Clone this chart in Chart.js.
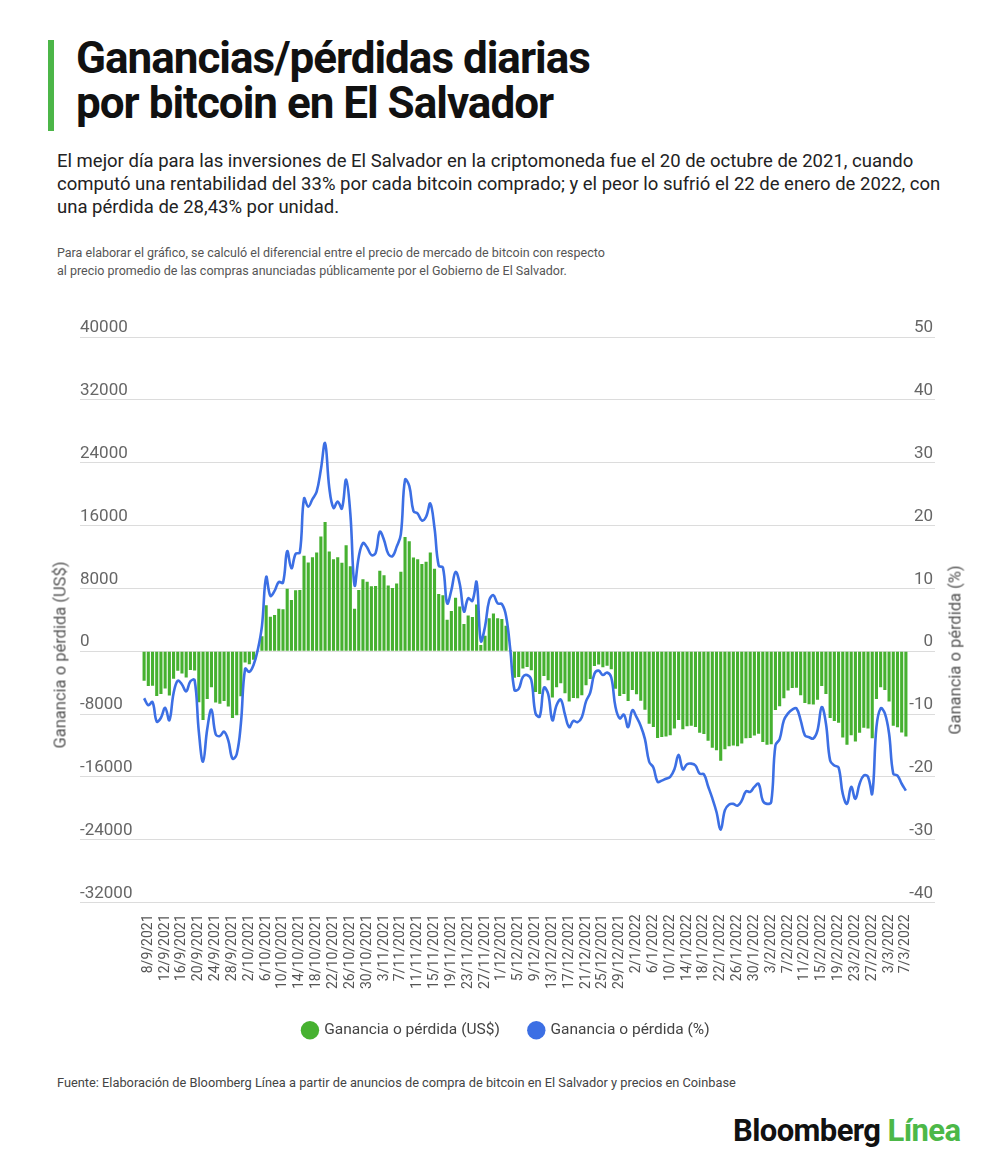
<!DOCTYPE html>
<html lang="es">
<head>
<meta charset="UTF-8">
<title>Ganancias/pérdidas diarias por bitcoin en El Salvador</title>
<script src="https://cdn.jsdelivr.net/npm/chart.js"></script>
<style>
  body { margin: 0; background: #fff; font-family: Roboto, "Liberation Sans", sans-serif; }
  .pagina { position: relative; width: 1000px; height: 1170px; overflow: hidden; }
  .barra { position: absolute; left: 48px; top: 40px; width: 6px; height: 91px; background: #4cb648; }
  h1 { position: absolute; left: 76px; top: 36px; margin: 0; font-size: 44px; line-height: 45px; font-weight: 700; letter-spacing: -1px; color: #111; }
  .bajada { position: absolute; left: 57px; top: 150px; margin: 0; font-size: 18.5px; line-height: 23px; color: #222; white-space: nowrap; }
  .nota { position: absolute; left: 57px; top: 244px; font-size: 12.5px; line-height: 18px; color: #555; white-space: nowrap; }
  .grafico { position: absolute; left: 0; top: 300px; width: 1000px; height: 770px; }
  .tituloEje { position: absolute; font-size: 16.5px; color: #555; white-space: nowrap; transform: translate(-50%, -50%) rotate(-90deg); }
  .fuente { position: absolute; left: 57px; top: 1075px; font-size: 12.8px; color: #444; white-space: nowrap; }
  .logo { position: absolute; left: 733px; top: 1112px; font-size: 31px; font-weight: 700; letter-spacing: -0.6px; color: #111; white-space: nowrap; }
  .logo span { color: #4cb848; }
</style>
</head>
<body>
<div class="pagina">
  <div class="barra"></div>
  <h1>Ganancias/pérdidas diarias<br>por bitcoin en El Salvador</h1>
  <p class="bajada">El mejor día para las inversiones de El Salvador en la criptomoneda fue el 20 de octubre de 2021, cuando<br>computó una rentabilidad del 33% por cada bitcoin comprado; y el peor lo sufrió el 22 de enero de 2022, con<br>una pérdida de 28,43% por unidad.</p>
  <div class="nota">Para elaborar el gráfico, se calculó el diferencial entre el precio de mercado de bitcoin con respecto<br>al precio promedio de las compras anunciadas públicamente por el Gobierno de El Salvador.</div>
  <div class="grafico"><canvas id="grafico"></canvas></div>
  <div class="tituloEje" style="left:60px; top:655px;">Ganancia o pérdida (US$)</div>
  <div class="tituloEje" style="left:955px; top:650px;">Ganancia o pérdida (%)</div>
  <div class="fuente">Fuente: Elaboración de Bloomberg Línea a partir de anuncios de compra de bitcoin en El Salvador y precios en Coinbase</div>
  <div class="logo">Bloomberg <span>Línea</span></div>
</div>

<script>
// fechas diarias, 7/9/2021 a 7/3/2022
const fechas = [
  '7/9/2021','8/9/2021','9/9/2021','10/9/2021','11/9/2021','12/9/2021','13/9/2021','14/9/2021','15/9/2021','16/9/2021',
  '17/9/2021','18/9/2021','19/9/2021','20/9/2021','21/9/2021','22/9/2021','23/9/2021','24/9/2021','25/9/2021','26/9/2021',
  '27/9/2021','28/9/2021','29/9/2021','30/9/2021',
  '1/10/2021','2/10/2021','3/10/2021','4/10/2021','5/10/2021','6/10/2021','7/10/2021','8/10/2021','9/10/2021','10/10/2021',
  '11/10/2021','12/10/2021','13/10/2021','14/10/2021','15/10/2021','16/10/2021','17/10/2021','18/10/2021','19/10/2021','20/10/2021',
  '21/10/2021','22/10/2021','23/10/2021','24/10/2021','25/10/2021','26/10/2021','27/10/2021','28/10/2021','29/10/2021','30/10/2021','31/10/2021',
  '1/11/2021','2/11/2021','3/11/2021','4/11/2021','5/11/2021','6/11/2021','7/11/2021','8/11/2021','9/11/2021','10/11/2021',
  '11/11/2021','12/11/2021','13/11/2021','14/11/2021','15/11/2021','16/11/2021','17/11/2021','18/11/2021','19/11/2021','20/11/2021',
  '21/11/2021','22/11/2021','23/11/2021','24/11/2021','25/11/2021','26/11/2021','27/11/2021','28/11/2021','29/11/2021','30/11/2021',
  '1/12/2021','2/12/2021','3/12/2021','4/12/2021','5/12/2021','6/12/2021','7/12/2021','8/12/2021','9/12/2021','10/12/2021',
  '11/12/2021','12/12/2021','13/12/2021','14/12/2021','15/12/2021','16/12/2021','17/12/2021','18/12/2021','19/12/2021','20/12/2021',
  '21/12/2021','22/12/2021','23/12/2021','24/12/2021','25/12/2021','26/12/2021','27/12/2021','28/12/2021','29/12/2021','30/12/2021','31/12/2021',
  '1/1/2022','2/1/2022','3/1/2022','4/1/2022','5/1/2022','6/1/2022','7/1/2022','8/1/2022','9/1/2022','10/1/2022',
  '11/1/2022','12/1/2022','13/1/2022','14/1/2022','15/1/2022','16/1/2022','17/1/2022','18/1/2022','19/1/2022','20/1/2022',
  '21/1/2022','22/1/2022','23/1/2022','24/1/2022','25/1/2022','26/1/2022','27/1/2022','28/1/2022','29/1/2022','30/1/2022','31/1/2022',
  '1/2/2022','2/2/2022','3/2/2022','4/2/2022','5/2/2022','6/2/2022','7/2/2022','8/2/2022','9/2/2022','10/2/2022',
  '11/2/2022','12/2/2022','13/2/2022','14/2/2022','15/2/2022','16/2/2022','17/2/2022','18/2/2022','19/2/2022','20/2/2022',
  '21/2/2022','22/2/2022','23/2/2022','24/2/2022','25/2/2022','26/2/2022','27/2/2022','28/2/2022',
  '1/3/2022','2/3/2022','3/3/2022','4/3/2022','5/3/2022','6/3/2022','7/3/2022'
];

// ganancia o pérdida por bitcoin, en US$
const gananciaUsd = [
  -3770, -4420, -4400, -5700, -5450, -4750, -5650, -3500, -2500, -2850,
  -3350, -2400, -2450, -6500, -8750, -6100, -4600, -6550, -6700, -6350,
  -7050, -8500, -8150, -5750, -1450, -1650, -1100, 100, 1900, 5850,
  4370, 4600, 5400, 5350, 7950, 6500, 7750, 7780, 12150, 11300,
  11950, 12550, 14600, 16450, 12700, 11700, 11950, 11260, 13500, 10800,
  5400, 7800, 9150, 8830, 8250, 8300, 10250, 9650, 8350, 8050,
  8600, 10100, 14550, 14000, 11930, 11700, 11100, 11400, 12550, 10500,
  7270, 7120, 4000, 5100, 6800, 5680, 3450, 4550, 4350, 5950,
  800, 1950, 4200, 4780, 4200, 4100, 3250, 150, -3400, -3300,
  -2200, -2000, -2430, -5200, -5450, -3150, -3700, -5900, -4600, -4100,
  -5350, -6400, -5950, -6000, -5600, -4350, -3550, -1900, -1700, -2050,
  -1850, -2300, -4800, -5700, -5450, -6350, -4950, -5500, -6300, -7450,
  -9250, -9650, -11050, -10920, -10850, -10700, -9850, -8750, -9950, -9550,
  -9500, -9650, -10400, -10550, -11400, -12300, -12600, -13950, -12500, -12100,
  -12000, -12100, -11750, -11100, -11050, -10750, -10500, -11550, -11900, -11850,
  -7500, -7000, -6000, -5000, -4700, -4650, -5600, -6600, -6750, -6800,
  -6200, -4450, -5450, -8500, -8900, -9100, -11000, -11900, -10700, -11500,
  -10400, -9750, -9850, -11100, -6100, -4600, -4950, -6400, -9500, -9700,
  -10350, -10850
];

// ganancia o pérdida por bitcoin, en %
const gananciaPct = [
  -7.5, -8.6, -8.1, -11.2, -10.6, -9.0, -11.0, -6.7, -4.7, -5.3,
  -6.4, -4.8, -4.6, -12.8, -17.6, -12.4, -9.3, -13.2, -13.5, -12.8,
  -14.2, -17.1, -16.4, -11.5, -2.8, -3.3, -2.2, 0.2, 4.0, 11.8,
  8.8, 9.6, 11.0, 10.9, 15.9, 13.2, 15.5, 15.7, 24.3, 23.0,
  24.2, 25.4, 28.9, 33.1, 26.0, 22.8, 23.8, 22.7, 27.3, 21.9,
  10.5, 15.0, 17.2, 16.5, 15.3, 15.6, 19.0, 17.7, 15.5, 15.1,
  16.6, 18.6, 27.3, 26.3, 22.3, 21.9, 20.8, 21.4, 23.5, 19.6,
  13.6, 13.3, 7.6, 9.7, 12.6, 10.7, 6.3, 8.4, 8.0, 11.0,
  1.6, 3.9, 8.1, 8.9, 7.6, 7.5, 5.6, 0.3, -6.2, -6.0,
  -4.1, -3.8, -4.6, -9.9, -10.4, -5.8, -6.8, -11.0, -8.6, -7.7,
  -10.1, -12.1, -11.1, -11.3, -10.5, -8.0, -6.6, -3.6, -3.1, -3.8,
  -3.4, -4.2, -8.9, -10.7, -10.1, -12.1, -9.4, -10.5, -11.9, -14.0,
  -17.6, -18.5, -20.8, -20.6, -20.3, -20.0, -18.8, -16.5, -18.8, -18.0,
  -17.9, -18.2, -19.5, -19.6, -21.5, -23.4, -25.6, -28.4, -25.3, -24.4,
  -24.3, -24.6, -23.8, -22.3, -22.4, -21.6, -21.1, -23.8, -24.3, -24.0,
  -15.0, -14.0, -11.0, -9.9, -9.3, -9.1, -11.0, -13.4, -13.7, -13.9,
  -12.6, -8.9, -11.5, -17.4, -18.2, -18.5, -22.7, -24.3, -21.6, -23.5,
  -21.1, -19.8, -20.0, -22.7, -12.1, -9.1, -9.9, -13.1, -19.5, -19.8,
  -21.1, -22.2
];

// marcas de los ejes
const ticksUsd = [-32000, -24000, -16000, -8000, 0, 8000, 16000, 24000, 32000, 40000];
const ticksPct = [-40, -30, -20, -10, 0, 10, 20, 30, 40, 50];

const verde = '#46b130';
const azul = '#3c6fe4';
const gris = '#dcdcdc';

Chart.defaults.font.family = 'Roboto, "Liberation Sans", sans-serif';
Chart.defaults.color = '#666';

const ctx = document.getElementById('grafico');

new Chart(ctx, {
  type: 'bar',
  data: {
    labels: fechas,
    datasets: [{
      label: 'Ganancia o pérdida (US$)',
      data: gananciaUsd,
      yAxisID: 'yUsd',
      backgroundColor: verde,
      barPercentage: 1,
      categoryPercentage: 0.74,
      order: 1
    }, {
      type: 'line',
      label: 'Ganancia o pérdida (%)',
      data: gananciaPct,
      yAxisID: 'yPct',
      borderColor: azul,
      backgroundColor: azul,
      borderWidth: 2.6,
      pointRadius: 0,
      tension: 0.4,
      order: 0
    }]
  },
  options: {
    responsive: true,
    maintainAspectRatio: false,
    animation: false,
    layout: { padding: { left: 80, right: 67, top: 37, bottom: 22 } },
    plugins: {
      tooltip: { enabled: false },
      legend: {
        position: 'bottom',
        labels: {
          usePointStyle: true,
          boxWidth: 13,
          boxHeight: 13,
          padding: 30,
          color: '#444',
          font: { size: 15.5 },
          sort: (a, b) => a.datasetIndex - b.datasetIndex,
          generateLabels(chart) {
            const items = Chart.defaults.plugins.legend.labels.generateLabels(chart);
            items.forEach(it => { it.lineWidth = 0; it.pointStyle = 'circle'; });
            return items;
          }
        }
      }
    },
    scales: {
      x: {
        grid: { display: false },
        border: { display: false },
        ticks: {
          autoSkip: false,
          minRotation: 90,
          maxRotation: 90,
          padding: 4,
          color: '#555',
          font: { size: 14 },
          // una fecha cada cuatro días, empezando por el 8/9
          callback: (v, i) => ((i - 1) % 4 === 0 ? fechas[i] : '')
        },
        afterFit: s => { s.height = 90; }
      },
      yUsd: {
        position: 'left',
        min: ticksUsd[0],
        max: ticksUsd[ticksUsd.length - 1],
        grid: { color: gris, tickColor: gris, tickLength: 62 },
        border: { display: false },
        ticks: {
          stepSize: ticksUsd[1] - ticksUsd[0],
          crossAlign: 'far',
          labelOffset: -9,
          color: '#666',
          font: { size: 17 },
          callback: v => String(Math.round(v))
        },
        afterFit: s => { s.width = 62; }
      },
      yPct: {
        position: 'right',
        min: ticksPct[0],
        max: ticksPct[ticksPct.length - 1],
        grid: { drawOnChartArea: false, color: gris, tickColor: gris, tickLength: 27 },
        border: { display: false },
        ticks: {
          stepSize: ticksPct[1] - ticksPct[0],
          crossAlign: 'far',
          labelOffset: -9,
          color: '#666',
          font: { size: 17 },
          callback: v => String(Math.round(v))
        },
        afterFit: s => { s.width = 25; }
      }
    }
  }
});
</script>
</body>
</html>
